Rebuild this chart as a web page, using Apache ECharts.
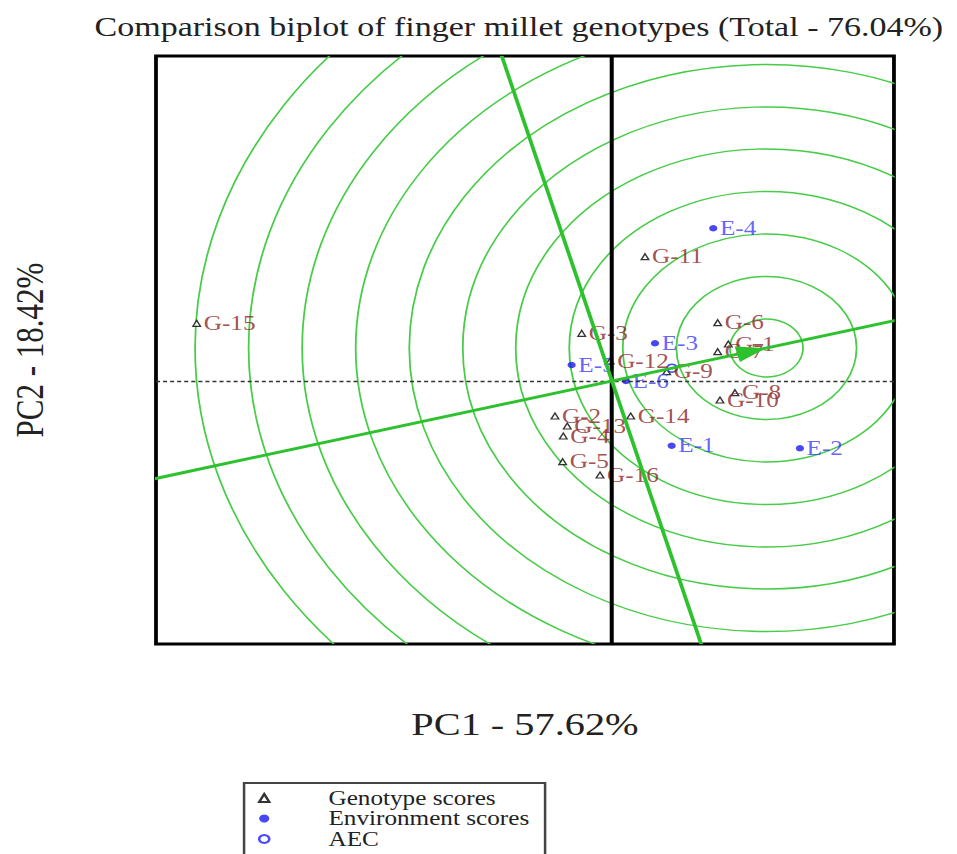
<!DOCTYPE html>
<html><head><meta charset="utf-8">
<script src="https://cdn.jsdelivr.net/npm/echarts@6/dist/echarts.min.js"></script>
<style>
html,body{margin:0;padding:0;background:#fff;overflow:hidden;width:957px;height:854px}
#chart{width:760px;height:890px;transform:scaleX(1.26);transform-origin:0 0}
</style>
</head><body><div id="chart"></div>
<script>
// ---- data (PC1, PC2 scores) ----
const genotypeNames = ['G-1','G-2','G-3','G-4','G-5','G-6','G-7','G-8','G-9','G-10','G-11','G-12','G-13','G-14','G-15','G-16'];
const genotypePC1 = [1.846,-0.905,-0.481,-0.773,-0.783,1.678,1.678,1.952,0.868,1.714,0.524,-0.03,-0.710,0.297,-6.592,-0.19];
const genotypePC2 = [0.74,-0.70,0.954,-1.10,-1.614,1.166,0.586,-0.234,0.186,-0.38,2.486,0.40,-0.90,-0.70,1.154,-1.88];
const environmentNames = ['E-1','E-2','E-3','E-4','E-5','E-6'];
const environmentPC1 = [0.948,2.984,0.683,1.608,-0.640,0.222];
const environmentPC2 = [-1.294,-1.346,0.754,3.054,0.32,0.0];
const aecPoint = [0.952, 0.256];
const idealPoint = [2.452, 0.66];
const ringRadii = [0.58,1.43,2.28,3.13,3.98,4.82,5.67,6.52,7.37,8.22,9.07];
const rangePC1 = [-7.238, 4.476];
const rangePC2 = [-5.26, 6.5];
const titleText = 'Comparison biplot of finger millet genotypes (Total - 76.04%)';
const xName = 'PC1 - 57.62%';
const yName = 'PC2 - 18.42%';
const legendNames = ['Genotype scores','Environment scores','AEC'];

const serif = "'Liberation Serif', 'Times New Roman', serif";
const chart = echarts.init(document.getElementById('chart'), null, {renderer:'svg'});

const option = {
  animation:false,
  backgroundColor:'#fff',
  title:{text:titleText,left:75,top:14,padding:0,
    textStyle:{fontFamily:serif,fontSize:27,fontWeight:'normal',color:'#222'}},
  legend:{data:legendNames,orient:'vertical',left:193.7,top:783,selectedMode:false,
    itemWidth:8,itemHeight:8,itemGap:0.5,padding:[5,12.5,14,11],
    borderColor:'#444',borderWidth:2,backgroundColor:'#fff',
    textStyle:{fontFamily:serif,fontSize:20,color:'#222',lineHeight:20,padding:[0,0,0,42]}},
  grid:{left:123.8,top:56,width:585.7,height:588,show:true,borderColor:'#000',borderWidth:3,backgroundColor:'transparent'},
  xAxis:{type:'value',min:rangePC1[0],max:rangePC1[1],
    axisLine:{show:false},axisTick:{show:false},axisLabel:{show:false},splitLine:{show:false},
    name:xName,nameLocation:'middle',nameGap:64,
    nameTextStyle:{fontFamily:serif,fontSize:32,color:'#222'}},
  yAxis:{type:'value',min:rangePC2[0],max:rangePC2[1],
    axisLine:{show:false},axisTick:{show:false},axisLabel:{show:false},splitLine:{show:false},
    name:yName,nameLocation:'middle',nameGap:84,
    nameTextStyle:{fontFamily:serif,fontSize:31,color:'#222'}},
  series:[
    {type:'custom',name:'rings',coordinateSystem:'cartesian2d',clip:true,silent:true,z:1,
      data:ringRadii.map(r=>[idealPoint[0],idealPoint[1],r]),
      renderItem:function(params,api){
        const c=api.coord([api.value(0),api.value(1)]);
        const s=api.size([api.value(2),api.value(2)]);
        return {type:'circle',shape:{cx:c[0],cy:c[1],r:s[0]},
          style:{fill:'none',stroke:'#46cc46',lineWidth:1.4}};
      }},
    {type:'scatter',name:'Genotype scores',symbol:'triangle',symbolSize:[6,6],z:3,
      emphasis:{disabled:true},
      itemStyle:{color:'#fff',borderColor:'#000',borderWidth:1.2},
      label:{show:true,position:'right',distance:2,formatter:'{b}',color:'#8b2525',fontFamily:serif,fontSize:20},
      data:genotypeNames.map((n,i)=>({name:n,value:[genotypePC1[i],genotypePC2[i]]})),
      markLine:{silent:true,symbol:['none','none'],label:{show:false},animation:false,
        data:[
          {xAxis:0,lineStyle:{type:'solid',width:3.2,color:'#000'}},
          {yAxis:0,lineStyle:{type:[3.2,2.4],width:1.4,color:'#333'}}
        ]}},
    {type:'scatter',name:'Environment scores',symbol:'circle',symbolSize:6.5,z:3,
      emphasis:{disabled:true},
      itemStyle:{color:'#1a1aee'},
      label:{show:true,position:'right',distance:2,formatter:'{b}',color:'#3c3cff',fontFamily:serif,fontSize:20},
      data:environmentNames.map((n,i)=>({name:n,value:[environmentPC1[i],environmentPC2[i]]}))},
    {type:'scatter',name:'AEC',symbol:'circle',symbolSize:8,z:3,
      emphasis:{disabled:true},
      itemStyle:{color:'rgba(255,255,255,0)',borderColor:'#1f1fff',borderWidth:1.5},
      data:[aecPoint]},
    {type:'custom',name:'aec-axes',coordinateSystem:'cartesian2d',clip:true,silent:true,z:5,
      data:[idealPoint],
      renderItem:function(params,api){
        const ix=api.value(0), iy=api.value(1), far=20;
        const a1=api.coord([-far*ix,-far*iy]), a2=api.coord([far*ix,far*iy]);
        const p1=api.coord([far*iy,-far*ix]), p2=api.coord([-far*iy,far*ix]);
        const o=api.coord([0,0]), t=api.coord([ix,iy]);
        const dx=t[0]-o[0], dy=t[1]-o[1], L=Math.hypot(dx,dy), ux=dx/L, uy=dy/L;
        const len=24, hw=8;
        const bx=t[0]-ux*len, by=t[1]-uy*len;
        const pts=[[t[0],t[1]],[bx-uy*hw,by+ux*hw],[bx+uy*hw,by-ux*hw]];
        const st={stroke:'#2ec12e',lineWidth:3};
        return {type:'group',children:[
          {type:'line',shape:{x1:a1[0],y1:a1[1],x2:a2[0],y2:a2[1]},style:st},
          {type:'line',shape:{x1:p1[0],y1:p1[1],x2:p2[0],y2:p2[1]},style:st},
          {type:'polygon',shape:{points:pts},style:{fill:'#2ec12e'}}
        ]};
      }}
  ]
};
chart.setOption(option);
</script>
</body></html>
